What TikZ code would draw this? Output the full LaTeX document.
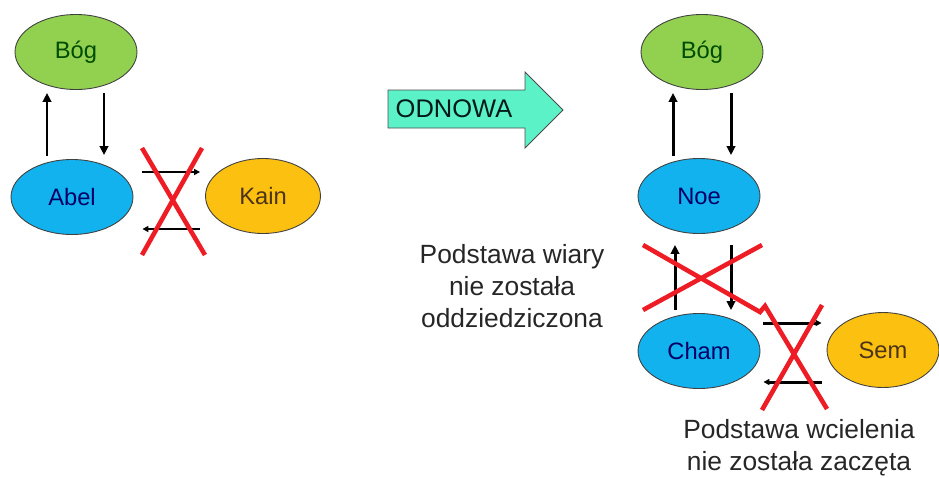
\documentclass[tikz,border=0pt]{standalone}
\usepackage{fontspec}
\setmainfont{Liberation Sans}
\usetikzlibrary{calc,arrows.meta,shapes.geometric}
\definecolor{godgreen}{HTML}{92D050}
\definecolor{abelblue}{HTML}{12B2EE}
\definecolor{kainyellow}{HTML}{FCC010}
\definecolor{renewaqua}{HTML}{5CF2C8}
\definecolor{crossred}{HTML}{EE1C25}
\tikzset{
  ell/.style={ellipse,draw=black!75,line width=0.5pt,minimum width=2.44cm,minimum height=1.5cm,inner sep=0pt,font=\fontsize{13.5}{16}\selectfont},
  arr/.style={-{Triangle[length=0.18cm,width=0.17cm]},line width=1.7pt},
  harr/.style={-{Triangle[length=0.12cm,width=0.12cm]},line width=1.7pt},
  cross/.style={crossred,line width=2.6pt,line join=miter},
  note/.style={align=center,text=black!85,font=\fontsize{15}{18.3}\selectfont}
}
\newcommand{\drawcross}[4]{
\pgfmathsetmacro{\xa}{#1}
\pgfmathsetmacro{\ya}{#2}
\pgfmathsetmacro{\xb}{#3}
\pgfmathsetmacro{\yb}{#4}
  \draw[cross] (\xa,\ya) -- (\xb,\yb);
  \draw[cross] (\xb-3,\ya) -- (\xa,\yb);
}
\begin{document}
\begin{tikzpicture}[x=0.02cm,y=-0.02cm]
\useasboundingbox (0,0) rectangle (939,477);
% pierwsza rodzina
\node[ell,fill=godgreen,text=green!30!black] (bog1) at (76,52) {Bóg};
\node[ell,fill=abelblue,text=blue!40!black] (abel) at (72,197) {Abel};
\node[ell,fill=kainyellow,text=brown!40!black,minimum width=2.3cm] (kain) at (263,196) {Kain};
\draw[arr] ($(abel.north)+(-25,-3)$) -- ($(bog1.south)+(-29,3)$);
\draw[arr] ($(bog1.south)+(28,3)$) -- ($(abel.north)+(32,-4)$);
\draw[harr] ($(abel.east)+(9,-25)$) -- ($(kain.west)+(-5,-24)$);
\draw[harr] ($(kain.west)+(-5,33)$) -- ($(abel.east)+(9,32)$);
\drawcross{142}{148}{205}{255}
% strzalka
\draw[draw=black!70,fill=renewaqua,line width=0.5pt] (388,90) -- (525,90) -- (525,72) -- (563,110) -- (525,148) -- (525,128) -- (388,128) -- cycle;
\node[text=black!80!teal,font=\fontsize{14.5}{17}\selectfont] (odnowa) at (454,109) {ODNOWA};
% druga rodzina
\node[ell,fill=godgreen,text=green!30!black] (bog2) at (702,52) {Bóg};
\node[ell,fill=abelblue,text=blue!40!black] (noe) at (699,196) {Noe};
\node[ell,fill=abelblue,text=blue!40!black] (cham) at (699,351) {Cham};
\node[ell,fill=kainyellow,text=brown!40!black,minimum width=2.24cm] (sem) at (883,350) {Sem};
\draw[arr] ($(noe.north)+(-26,-2)$) -- ($(bog2.south)+(-29,3)$);
\draw[arr] ($(bog2.south)+(29,3)$) -- ($(noe.north)+(32,-3)$);
\draw[arr] ($(cham.north)+(-24,-3)$) -- ($(noe.south)+(-24,11)$);
\draw[arr] ($(noe.south)+(32,11)$) -- ($(cham.north)+(32,-3)$);
\draw[harr] ($(cham.east)+(3,-28)$) -- ($(sem.west)+(-5,-27)$);
\draw[harr] ($(sem.west)+(-5,32)$) -- ($(cham.east)+(3,31)$);
\draw[cross] (643,245) -- (760,312) -- (765,306) -- (827,409);
\draw[cross] (643,310) -- (762,245);
\draw[cross] (822,305) -- (762,410);
\node[note] (wiara) at (512,286) {Podstawa wiary\\nie została\\oddziedziczona};
\node[note] (wcielenie) at (799,448) {Podstawa wcielenia\\nie została zaczęta};
\end{tikzpicture}
\end{document}
